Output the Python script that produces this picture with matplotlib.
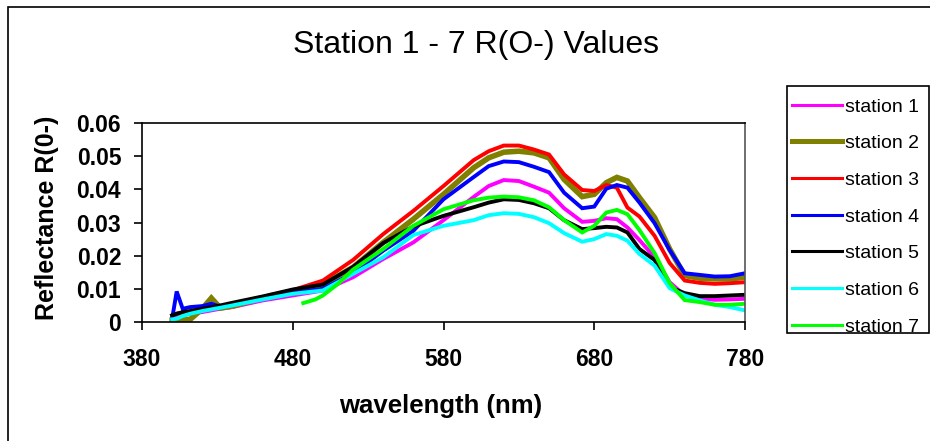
import matplotlib
matplotlib.use("Agg")
import matplotlib.pyplot as plt
from matplotlib.patches import Rectangle

plt.rcParams["font.family"] = ["Liberation Sans", "DejaVu Sans"]

# wavelength grid (nm) shared by stations 1-6
wl = [400, 403, 407, 412, 420, 426, 432, 440, 460, 480, 500, 520, 540, 560,
      580, 600, 610, 620, 630, 640, 650, 660, 672, 680, 688, 695, 702, 710,
      720, 730, 740, 750, 760, 770, 780]

st1 = [.0010, .0015, .0020, .0025, .0030, .0035, .0040, .0045, .0065, .0080,
       .0095, .0135, .0190, .0240, .0307, .0377, .0410, .0428, .0425, .0408,
       .0390, .0343, .0302, .0305, .0313, .0310, .0285, .0247, .0195, .0120,
       .0080, .0070, .0067, .0068, .0070]
st2 = [.0005, .0005, .0006, .0008, .0040, .0072, .0042, .0048, .0072, .0088,
       .0113, .0165, .0240, .0310, .0385, .0465, .0495, .0512, .0515, .0510,
       .0495, .0430, .0378, .0385, .0420, .0436, .0425, .0375, .0315, .0220,
       .0140, .0132, .0130, .0130, .0135]
st3 = [.0020, .0025, .0028, .0030, .0037, .0042, .0047, .0055, .0075, .0096,
       .0125, .0187, .0265, .0335, .0410, .0488, .0515, .0532, .0532, .0520,
       .0505, .0445, .0398, .0395, .0413, .0405, .0345, .0318, .0260, .0178,
       .0125, .0118, .0115, .0117, .0120]
st4 = [.0010, .0092, .0040, .0045, .0048, .0055, .0046, .0052, .0070, .0088,
       .0100, .0147, .0215, .0275, .0370, .0437, .0470, .0484, .0482, .0468,
       .0452, .0390, .0343, .0348, .0402, .0413, .0405, .0360, .0298, .0217,
       .0147, .0142, .0137, .0138, .0147]
st5 = [.0020, .0025, .0030, .0033, .0040, .0045, .0050, .0058, .0077, .0098,
       .0113, .0166, .0238, .0288, .0320, .0346, .0360, .0370, .0368, .0358,
       .0343, .0307, .0280, .0283, .0287, .0285, .0270, .0220, .0187, .0105,
       .0087, .0078, .0078, .0080, .0082]
st6 = [.0008, .0010, .0018, .0025, .0033, .0038, .0043, .0050, .0068, .0085,
       .0095, .0145, .0195, .0262, .0290, .0307, .0322, .0328, .0326, .0316,
       .0298, .0268, .0242, .0250, .0265, .0260, .0245, .0205, .0170, .0102,
       .0080, .0065, .0052, .0045, .0035]

# station 7 starts later
wl7 = [487, 495, 500, 510, 520, 540, 560, 580, 600, 610, 620, 630, 640, 650,
       660, 672, 680, 688, 695, 702, 710, 720, 730, 740, 750, 760, 770, 780]
st7 = [.0057, .0068, .0080, .0115, .0158, .0220, .0290, .0340, .0367, .0375,
       .0378, .0376, .0367, .0346, .0307, .0270, .0290, .0330, .0338, .0325,
       .0277, .0208, .0117, .0066, .0060, .0052, .0052, .0055]

labels = ["station 1", "station 2", "station 3", "station 4",
          "station 5", "station 6", "station 7"]
colors = ["#FF00FF", "#808000", "#FF0000", "#0000FF", "#000000", "#00FFFF", "#00FF00"]
x_ticks = [380, 480, 580, 680, 780]
y_ticks = [0, 0.01, 0.02, 0.03, 0.04, 0.05, 0.06]

W, H = 930, 441
fig = plt.figure(figsize=(W / 100, H / 100), dpi=100)
# chart-area border (right and bottom edges fall outside the image)
fig.patches.append(Rectangle((8 / W, -0.1), 1.2, 1.1 - 7 / H,
                             transform=fig.transFigure, fill=False,
                             edgecolor="black", linewidth=1.2))
# legend box drawn by hand so it sits exactly where the original one is
fig.patches.append(Rectangle((787 / W, 1 - 333 / H), 142 / W, 247 / H,
                             transform=fig.transFigure, fill=False,
                             edgecolor="black", linewidth=1.2))
ax = fig.add_axes([142 / W, 119 / H, 603 / W, 199 / H])

series = [(wl, st1), (wl, st2), (wl, st3), (wl, st4), (wl, st5), (wl, st6), (wl7, st7)]
for (x, y), c, lab in zip(series, colors, labels):
    lw = 4.0 if lab == "station 2" else 2.8
    ax.plot(x, y, color=c, lw=lw, label=lab, solid_joinstyle="miter")

ax.set_xlim(380, 780)
ax.set_ylim(0, 0.06)
ax.set_xticks(x_ticks)
ax.set_yticks(y_ticks)
ax.set_xticklabels([str(v) for v in x_ticks])
ax.set_yticklabels(["0" if v == 0 else f"{v:.2f}" for v in y_ticks])
ax.tick_params(direction="out", top=False, right=False, length=6, width=1.2,
               labelsize=16.5)
ax.tick_params(axis="x", pad=13)
ax.tick_params(axis="y", pad=9)
for lbl in ax.get_xticklabels() + ax.get_yticklabels():
    lbl.set_fontweight("bold")
for s in ax.spines.values():
    s.set_linewidth(1.2)
ax.spines["right"].set_color("#555555")

fig.text(476 / W, 1 - 45 / H, "Station 1 - 7 R(O-) Values", ha="center",
         va="center", fontsize=23)
fig.text(441 / W, 1 - 406 / H, "wavelength (nm)", ha="center", va="center",
         fontsize=18.5, fontweight="bold")
fig.text(47 / W, 1 - 218 / H, "Reflectance R(0-)", ha="center", va="center",
         rotation=90, fontsize=18, fontweight="bold")

leg_handles = [plt.Line2D([], [], color=c, lw=(3.6 if lab == "station 2" else 2.2))
               for c, lab in zip(colors, labels)]
leg = fig.legend(leg_handles, labels, loc="upper left",
                 bbox_to_anchor=(792 / W, 1 - 98 / H), frameon=False,
                 fontsize=14, handlelength=2.57, handletextpad=0.15,
                 labelspacing=0.98, borderpad=0, borderaxespad=0)

fig.savefig("out.png", dpi=100)
